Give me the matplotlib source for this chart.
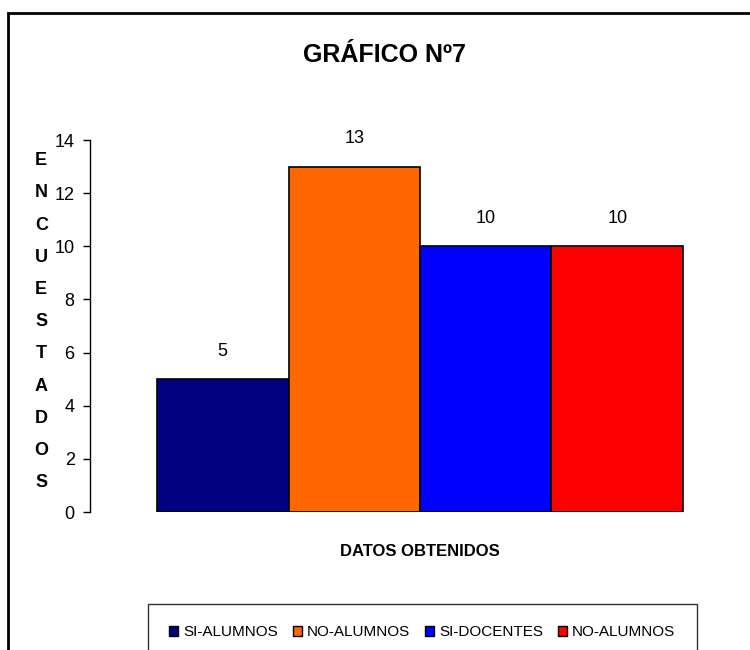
import matplotlib
matplotlib.use("Agg")
import matplotlib.pyplot as plt
from matplotlib.patches import Rectangle

# data
series = ["SI-ALUMNOS", "NO-ALUMNOS", "SI-DOCENTES", "NO-ALUMNOS"]
values = [5, 13, 10, 10]
colors = ["#000080", "#FF6600", "#0000FF", "#FF0000"]
y_ticks = [0, 2, 4, 6, 8, 10, 12, 14]

plt.rcParams['font.family'] = ['Liberation Sans', 'DejaVu Sans']

fig = plt.figure(figsize=(7.5, 6.5), dpi=100)
ax = fig.add_axes([0.12, 0.2123, 0.88, 0.5723])

positions = list(range(len(values)))
bars = ax.bar(positions, values, width=1.0, color=colors, edgecolor="black",
              linewidth=1.2, label=series)
for b, v in zip(bars, values):
    ax.annotate(str(v), (b.get_x() + b.get_width() / 2, v), xytext=(0, 14),
                textcoords="offset points", ha="center", va="bottom", fontsize=13)

ax.set_xlim(-1.01, 4.01)
ax.set_ylim(0, 14)
ax.set_yticks(y_ticks)
ax.tick_params(axis="y", labelsize=13, length=5, width=1, direction="out", pad=6)
ax.set_xticks([])
for s in ["top", "right", "bottom"]:
    ax.spines[s].set_visible(False)
ax.spines["left"].set_linewidth(1)

fig.text(0.513, 0.915, "GRÁFICO Nº7", ha="center", va="center",
         fontsize=18, fontweight="bold")
fig.text(0.56, 0.151, "DATOS OBTENIDOS", ha="center", va="center",
         fontsize=12, fontweight="bold")
fig.text(0.055, 0.505, "\n".join("ENCUESTADOS"), ha="center", va="center",
         fontsize=13, fontweight="bold", linespacing=2.17)

handles = [Rectangle((0, 0), 1, 1, facecolor=c, edgecolor="black", linewidth=1) for c in colors]
leg = fig.legend(handles, series, loc="upper center", bbox_to_anchor=(0.563, 0.083),
                 ncol=4, frameon=True, fancybox=False, fontsize=11,
                 handlelength=0.6, handleheight=0.6, handletextpad=0.3,
                 columnspacing=1.0, borderpad=1.4)
leg.get_frame().set_edgecolor("black")
leg.get_frame().set_linewidth(1)

# outer chart frame
fig.patches.append(Rectangle((8 / 750, -0.05), 1.1, 1.03, transform=fig.transFigure,
                             fill=False, edgecolor="black", linewidth=2))

fig.savefig("out.png", dpi=100)
